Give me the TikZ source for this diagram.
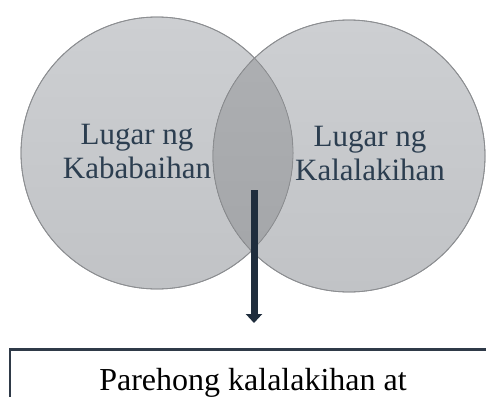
\documentclass[tikz,border=0pt]{standalone}
\usepackage{fontspec}
\setmainfont{Liberation Serif}
\usetikzlibrary{arrows.meta,positioning}

\definecolor{venntop}{HTML}{CDCFD2}
\definecolor{vennbot}{HTML}{C1C3C6}
\definecolor{midtop}{HTML}{AEB0B3}
\definecolor{midbot}{HTML}{A3A5A8}
\definecolor{vennline}{HTML}{8C8E91}
\definecolor{venntxt}{HTML}{2C3E50}
\definecolor{arrowcol}{HTML}{1F2D3D}
\definecolor{boxline}{HTML}{2F3A48}

\begin{document}
\begin{tikzpicture}[x=1pt,y=-1pt,
  venn/.style={circle,minimum size=272pt,inner sep=0pt,outer sep=0pt,
    draw=vennline,line width=0.8pt,top color=venntop,bottom color=vennbot},
  venntext/.style={text=venntxt,font=\fontsize{31}{34}\selectfont,align=center,inner sep=0pt},
  outbox/.style={draw=boxline,line width=2.5pt,minimum width=486pt,minimum height=120pt,inner sep=0pt},
  boxtext/.style={font=\fontsize{32}{35}\selectfont,inner sep=0pt},
  flow/.style={draw=arrowcol,line width=7pt,-{Triangle[width=16pt,length=9pt]}}]
\useasboundingbox (0,0) rectangle (486,396);
\clip (0,0) rectangle (486,396);

\node[venn] (lcirc) at (157,153) {};
\node[venn] (rcirc) at (349,156) {};

% overlap
\begin{scope}
\clip (lcirc.center) circle (136pt);
\fill[top color=midtop,bottom color=midbot] (rcirc.center) circle (136pt);
\end{scope}
\draw[vennline,line width=0.8pt] (lcirc.center) circle (136pt);
\draw[vennline,line width=0.8pt] (rcirc.center) circle (136pt);

\node[venntext] (ltext) at (137,151) {Lugar ng\\Kababaihan};
\node[venntext] (rtext) at (370,153) {Lugar ng\\Kalalakihan};

\node[outbox,anchor=north] (box) at (253,348) {};
\node[boxtext,below=20pt of box.north] (boxlbl) {Parehong kalalakihan at};

\coordinate (arrtop) at (254,190);
\draw[flow,shorten >=25pt] (arrtop) -- (arrtop |- box.north);

\end{tikzpicture}
\end{document}
